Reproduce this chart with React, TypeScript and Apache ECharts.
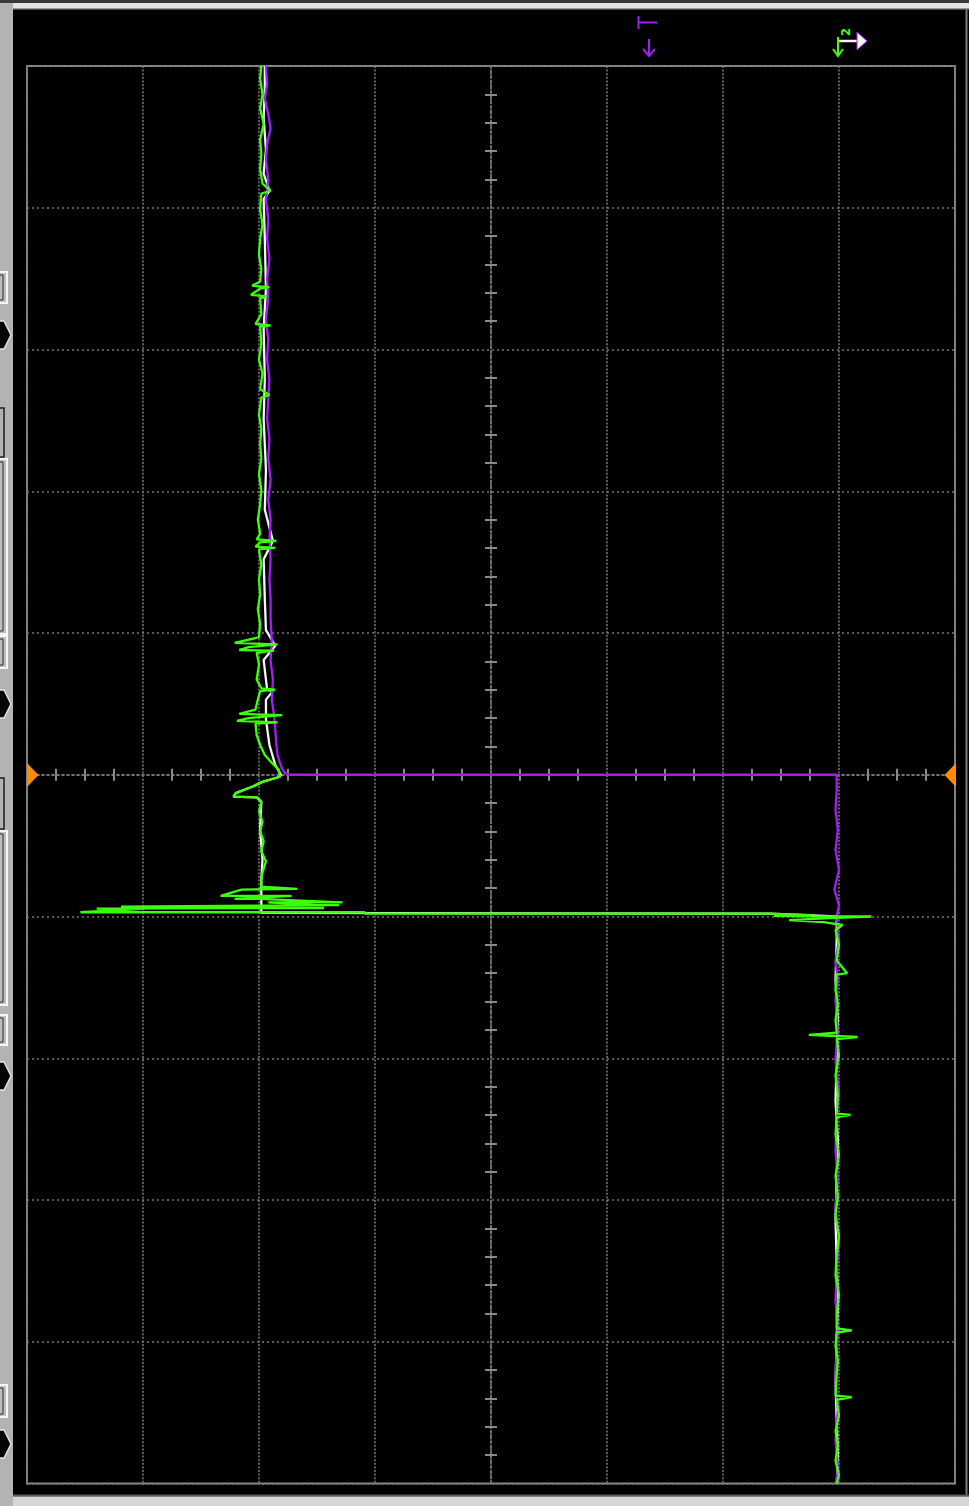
import React, { useEffect, useRef } from "react";
import * as echarts from "echarts";

// Oscilloscope screen (rotated): x = volts in divisions, y = time in divisions (downwards)
const voltRange = [-4, 4];
const timeRange = [-5, 5];

const purpleTrace: [number, number][] = [
  [-1.94, -5.0], [-1.93, -4.87], [-1.95, -4.77], [-1.92, -4.66], [-1.9, -4.56], [-1.93, -4.45],
  [-1.94, -4.34], [-1.92, -4.2], [-1.94, -4.06], [-1.92, -3.92], [-1.93, -3.78], [-1.91, -3.64],
  [-1.93, -3.5], [-1.92, -3.36], [-1.94, -3.21], [-1.92, -3.07], [-1.93, -2.93], [-1.91, -2.79],
  [-1.92, -2.65], [-1.93, -2.51], [-1.91, -2.37], [-1.92, -2.23], [-1.9, -2.08], [-1.92, -1.94],
  [-1.9, -1.8], [-1.91, -1.66], [-1.9, -1.52], [-1.91, -1.38], [-1.9, -1.24], [-1.9, -1.1],
  [-1.89, -0.95], [-1.9, -0.81], [-1.88, -0.67], [-1.89, -0.53], [-1.87, -0.42], [-1.86, -0.32],
  [-1.85, -0.21], [-1.84, -0.14], [-1.82, -0.085], [-1.8, -0.042], [-1.78, -0.014], [-1.74, 0],
  [2.98, 0], [2.98, 0.11], [2.97, 0.25], [2.99, 0.39], [2.97, 0.53], [3.0, 0.67], [2.96, 0.81],
  [3.0, 0.92], [2.98, 1.0], [3.0, 1.17], [2.97, 1.31], [2.99, 1.45], [2.97, 1.59], [2.99, 1.8],
  [2.97, 2.01], [3.0, 2.23], [2.98, 2.44], [2.97, 2.65], [2.99, 2.86], [2.97, 3.07], [3.0, 3.28],
  [2.98, 3.5], [2.97, 3.71], [2.99, 3.92], [2.98, 4.06], [2.97, 4.27], [2.99, 4.48], [2.97, 4.7],
  [2.99, 4.87], [2.98, 5.0],
];

const greenTrace: [number, number][] = [
  [-1.98, -5.0], [-1.99, -4.91], [-1.97, -4.8], [-1.99, -4.7], [-1.96, -4.59], [-1.99, -4.48],
  [-1.98, -4.38], [-1.99, -4.27], [-1.97, -4.17], [-1.9, -4.12], [-1.98, -4.1], [-1.99, -3.99],
  [-1.97, -3.88], [-1.99, -3.78], [-2.0, -3.67], [-1.98, -3.57], [-1.99, -3.48], [-2.06, -3.45],
  [-1.91, -3.44], [-1.99, -3.43], [-2.07, -3.385], [-1.93, -3.375], [-1.99, -3.36], [-1.98, -3.25],
  [-2.03, -3.18], [-1.9, -3.17], [-1.99, -3.16], [-1.98, -3.04], [-2.0, -2.93], [-1.97, -2.83],
  [-1.99, -2.72], [-1.91, -2.68], [-1.98, -2.66], [-2.0, -2.54], [-1.98, -2.44], [-1.99, -2.33],
  [-1.98, -2.23], [-2.0, -2.12], [-1.98, -2.01], [-1.99, -1.91], [-2.01, -1.8], [-1.99, -1.7],
  [-2.02, -1.66], [-1.85, -1.65], [-1.99, -1.64], [-2.03, -1.61], [-1.86, -1.6], [-2.0, -1.59],
  [-1.98, -1.48], [-2.0, -1.38], [-1.99, -1.27], [-2.01, -1.17], [-1.99, -1.06], [-2.0, -0.97],
  [-2.21, -0.93], [-1.84, -0.92], [-2.09, -0.9], [-2.17, -0.88], [-1.87, -0.875], [-2.02, -0.86],
  [-2.0, -0.78], [-2.02, -0.67], [-1.98, -0.61], [-1.86, -0.6], [-1.99, -0.59], [-2.01, -0.53],
  [-2.03, -0.46], [-2.17, -0.43], [-1.8, -0.42], [-2.09, -0.4], [-2.19, -0.38], [-1.84, -0.37],
  [-2.03, -0.36], [-2.02, -0.28], [-1.99, -0.21], [-1.95, -0.14], [-1.89, -0.085], [-1.83, -0.035],
  [-1.82, 0.014], [-1.97, 0.05], [-2.06, 0.085], [-2.2, 0.13], [-2.22, 0.155], [-2.02, 0.16],
  [-1.98, 0.19], [-2.0, 0.26], [-1.97, 0.33], [-1.99, 0.4], [-1.96, 0.47], [-1.98, 0.54],
  [-1.94, 0.61], [-1.97, 0.69], [-1.98, 0.74], [-1.98, 0.79], [-1.67, 0.805], [-2.15, 0.81],
  [-2.33, 0.855], [-1.72, 0.855], [-2.21, 0.875], [-2.0, 0.875], [-1.28, 0.9], [-1.92, 0.9],
  [-1.5, 0.92], [-1.31, 0.92], [-3.19, 0.93], [-1.44, 0.94], [-3.4, 0.945], [-2.97, 0.945],
  [-3.54, 0.97], [-1.09, 0.97], [-1.09, 0.98], [2.4, 0.98], [2.76, 0.99], [2.44, 0.995],
  [2.91, 1.0], [3.28, 1.0], [2.96, 1.01], [2.57, 1.025], [2.87, 1.04], [3.03, 1.06], [2.97, 1.095],
  [3.0, 1.2], [2.98, 1.31], [3.07, 1.4], [2.98, 1.41], [2.97, 1.52], [2.99, 1.62], [2.97, 1.73],
  [2.98, 1.82], [2.74, 1.835], [3.16, 1.85], [2.98, 1.865], [3.0, 1.98], [2.97, 2.12], [2.99, 2.26],
  [2.98, 2.39], [3.1, 2.4], [2.98, 2.415], [2.97, 2.54], [3.0, 2.68], [2.97, 2.83], [2.99, 2.97],
  [2.97, 3.11], [3.0, 3.25], [2.98, 3.39], [2.97, 3.53], [3.0, 3.67], [2.98, 3.81], [2.98, 3.905],
  [3.11, 3.92], [2.98, 3.935], [2.97, 4.03], [2.99, 4.13], [2.98, 4.24], [2.97, 4.38], [3.11, 4.39],
  [2.98, 4.41], [3.0, 4.52], [2.97, 4.63], [2.99, 4.73], [2.97, 4.84], [3.0, 4.94], [2.98, 5.0],
];

const whiteTrace: [number, number][] = [
  [-1.95, -5.0], [-1.95, -4.84], [-1.96, -4.63], [-1.94, -4.41], [-1.96, -4.24], [-1.91, -4.12],
  [-1.96, -4.06], [-1.95, -3.78], [-1.94, -3.43], [-1.96, -3.14], [-1.95, -2.79], [-1.96, -2.51],
  [-1.94, -2.15], [-1.95, -1.87], [-1.88, -1.65], [-1.96, -1.52], [-1.95, -1.24], [-1.94, -1.02],
  [-1.86, -0.91], [-1.96, -0.81], [-1.93, -0.6], [-1.88, -0.59], [-1.94, -0.53], [-1.94, -0.39],
  [-1.91, -0.21], [-1.86, -0.07], [-1.81, 0], [-1.82, 0.014], [-1.97, 0.05], [-2.06, 0.085],
  [-2.2, 0.13], [-2.22, 0.155], [-2.02, 0.16], [-1.98, 0.19], [-1.99, 0.39], [-1.97, 0.6],
  [-1.98, 0.74], [-1.98, 0.88], [-1.98, 0.975], [2.4, 0.98], [2.98, 1.0], [2.98, 1.165],
  [2.97, 1.45], [2.99, 1.73], [2.98, 2.01], [2.97, 2.3], [2.99, 2.58], [2.98, 2.86], [2.97, 3.14],
  [2.98, 3.43], [2.99, 3.71], [2.98, 3.99], [2.97, 4.27], [2.98, 4.56], [2.99, 4.84], [2.98, 5.0],
];

const PURPLE = "#a020f0";
const GREEN = "#3cff0a";
const WHITE = "#f4f4f4";
const GRID_DOT = "#767676";
const TICK = "#8a8a8a";
const ORANGE = "#ff8c00";

function buildGraphics() {
  const g: any[] = [];
  // outer bezel
  g.push({ type: "rect", silent: true, shape: { x: 0, y: 0, width: 969, height: 3 }, style: { fill: "#3a3a3a" } });
  g.push({ type: "rect", silent: true, shape: { x: 0, y: 3, width: 969, height: 5 }, style: { fill: "#e4e4e4" } });
  g.push({ type: "rect", silent: true, shape: { x: 0, y: 8, width: 969, height: 1.5 }, style: { fill: "#9a9a9a" } });
  g.push({ type: "rect", silent: true, shape: { x: 0, y: 3, width: 13, height: 1503 }, style: { fill: "#b3b3b3" } });
  g.push({ type: "rect", silent: true, shape: { x: 13, y: 1494.5, width: 956, height: 2 }, style: { fill: "#5e5e5e" } });
  g.push({ type: "rect", silent: true, shape: { x: 13, y: 1496.5, width: 956, height: 10 }, style: { fill: "#d6d6d6" } });
  g.push({ type: "rect", silent: true, shape: { x: 965.5, y: 9.5, width: 2, height: 1485 }, style: { fill: "#7c7c7c" } });

  // left side widgets (cut off channel buttons and markers)
  const whiteBoxes = [[272, 31], [459, 175], [636, 32], [831, 174], [1015, 30], [1385, 32]];
  whiteBoxes.forEach(([y, h]) => {
    g.push({ type: "rect", silent: true, shape: { x: -4, y, width: 11, height: h },
      style: { fill: "#bdbdbd", stroke: "#f6f6f6", lineWidth: 2 } });
    g.push({ type: "rect", silent: true, shape: { x: -4, y: y + 3, width: 7, height: h - 6 },
      style: { fill: "none", stroke: "#2a2a2a", lineWidth: 1 } });
  });
  const darkBoxes = [[408, 49], [778, 51]];
  darkBoxes.forEach(([y, h]) => {
    g.push({ type: "rect", silent: true, shape: { x: -4, y, width: 8, height: h },
      style: { fill: "none", stroke: "#1e1e1e", lineWidth: 1.5 } });
  });
  const markers = [321, 690, 1062, 1430];
  markers.forEach((y) => {
    g.push({ type: "polygon", silent: true,
      shape: { points: [[-2, y], [4, y], [11, y + 14], [4, y + 28], [-2, y + 28]] },
      style: { fill: "#050505", stroke: "#e2e2e2", lineWidth: 1.5 } });
  });

  // ground / level markers (orange)
  g.push({ type: "polygon", silent: true, z: 20, shape: { points: [[27, 763], [38.5, 775], [27, 787]] }, style: { fill: ORANGE } });
  g.push({ type: "polygon", silent: true, z: 20, shape: { points: [[956, 763], [944.5, 775], [956, 787]] }, style: { fill: ORANGE } });

  // trigger marker (purple)
  g.push({ type: "line", silent: true, z: 20, shape: { x1: 638.5, y1: 16, x2: 638.5, y2: 29 }, style: { stroke: PURPLE, lineWidth: 2 } });
  g.push({ type: "line", silent: true, z: 20, shape: { x1: 638, y1: 22.5, x2: 657, y2: 22.5 }, style: { stroke: PURPLE, lineWidth: 2 } });
  g.push({ type: "line", silent: true, z: 20, shape: { x1: 649, y1: 39, x2: 649, y2: 56 }, style: { stroke: PURPLE, lineWidth: 2 } });
  g.push({ type: "polyline", silent: true, z: 20, shape: { points: [[643, 49], [649, 56], [655, 49]] }, style: { stroke: PURPLE, lineWidth: 2, fill: "none" } });

  // channel / timebase marker near top right
  g.push({ type: "line", silent: true, z: 20, shape: { x1: 838, y1: 37, x2: 838, y2: 55 }, style: { stroke: GREEN, lineWidth: 2 } });
  g.push({ type: "polyline", silent: true, z: 20, shape: { points: [[833, 49], [838, 56], [843, 49]] }, style: { stroke: GREEN, lineWidth: 2, fill: "none" } });
  g.push({ type: "line", silent: true, z: 21, shape: { x1: 839, y1: 41, x2: 859, y2: 41 }, style: { stroke: WHITE, lineWidth: 2.5 } });
  g.push({ type: "polygon", silent: true, z: 21, shape: { points: [[857, 32], [867, 41], [857, 50]] }, style: { fill: WHITE, stroke: PURPLE, lineWidth: 1 } });
  g.push({ type: "text", silent: true, z: 21, x: 846, y: 32, rotation: Math.PI / 2,
    style: { text: "2", fill: GREEN, font: 'bold 12px "DejaVu Sans"', align: "center", verticalAlign: "middle" } });
  return g;
}

function centerAxisLine() {
  return { show: true, onZero: true, onZeroAxisIndex: 0, lineStyle: { color: GRID_DOT, width: 1.5, type: [2, 3] } };
}

export default function App() {
  const ref = useRef<HTMLDivElement>(null);
  useEffect(() => {
    if (!ref.current) return;
    const chart = echarts.init(ref.current, undefined, { renderer: "svg" });
    const xCommon = {
      type: "value", min: voltRange[0], max: voltRange[1], interval: 1,
      axisTick: { show: false }, axisLabel: { show: false },
      minorTick: { show: true, splitNumber: 4, length: 6, lineStyle: { color: TICK, width: 2 } },
      minorSplitLine: { show: false },
    };
    const yCommon = {
      type: "value", min: timeRange[0], max: timeRange[1], interval: 1, inverse: true,
      axisTick: { show: false }, axisLabel: { show: false },
      minorTick: { show: true, splitNumber: 5, length: 6, lineStyle: { color: TICK, width: 2 } },
      minorSplitLine: { show: false },
    };
    chart.setOption({
      animation: false,
      backgroundColor: "#000000",
      grid: { left: 27, right: 14, top: 66, bottom: 22.5, show: true, borderColor: "#878787", borderWidth: 2, backgroundColor: "transparent" },
      xAxis: [
        { ...xCommon, position: "bottom", axisLine: centerAxisLine(),
          splitLine: { show: true, lineStyle: { color: GRID_DOT, width: 1.6, type: [2, 1.6] } } },
        { ...xCommon, position: "top", axisLine: centerAxisLine(), splitLine: { show: false } },
      ],
      yAxis: [
        { ...yCommon, position: "left", axisLine: centerAxisLine(),
          splitLine: { show: true, lineStyle: { color: GRID_DOT, width: 1.6, type: [2, 3] } } },
        { ...yCommon, position: "right", axisLine: centerAxisLine(), splitLine: { show: false } },
      ],
      graphic: buildGraphics(),
      series: [
        { type: "line", name: "CH3", data: whiteTrace, xAxisIndex: 0, yAxisIndex: 0, showSymbol: false, symbol: "none",
          lineStyle: { color: WHITE, width: 2.3 }, z: 3, silent: true },
        { type: "line", name: "CH1", data: purpleTrace, xAxisIndex: 0, yAxisIndex: 0, showSymbol: false, symbol: "none",
          lineStyle: { color: PURPLE, width: 2.3 }, z: 4, silent: true },
        { type: "line", name: "CH2", data: greenTrace, xAxisIndex: 0, yAxisIndex: 0, showSymbol: false, symbol: "none",
          lineStyle: { color: GREEN, width: 2.3 }, z: 5, silent: true },
      ],
    });
    return () => chart.dispose();
  }, []);
  return <div ref={ref} style={{ position: "absolute", left: 0, top: 0, width: 969, height: 1506 }} />;
}
